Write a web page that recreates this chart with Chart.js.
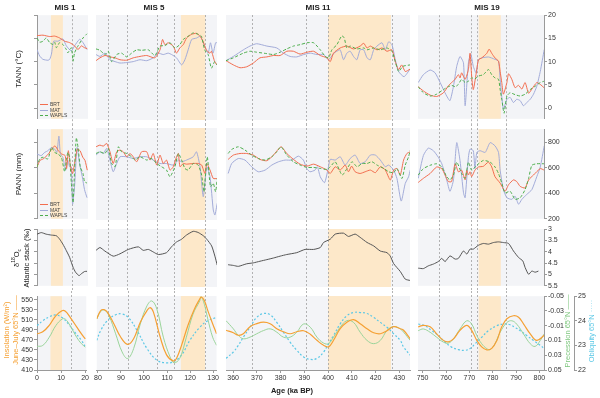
<!DOCTYPE html>
<html>
<head>
<meta charset="utf-8">
<script src="https://cdn.jsdelivr.net/npm/chart.js@4.4.0/dist/chart.umd.min.js"></script>
<style>
  body { margin: 0; width: 600px; height: 398px; position: relative; overflow: hidden; background: #fff;
         font-family: "Liberation Sans", Arial, sans-serif; color: #222; }
  .panel { position: absolute; }
  .txt { position: absolute; white-space: nowrap; z-index: 5; transform: translate(-50%, -50%); }
  .vert { position: absolute; white-space: nowrap; z-index: 5; text-align: center;
          transform: translate(-50%, -50%) rotate(-90deg); }
  .title { font-weight: bold; font-size: 8px; }
  .legend { position: absolute; z-index: 5; font-size: 5px; line-height: 5.6px; color: #444; }
  .sw { display: inline-block; width: 8px; height: 0; vertical-align: middle; margin-right: 2px; }
</style>
</head>
<body>

<div class="txt title" style="left:65px;top:7px">MIS 1</div>
<div class="txt title" style="left:154px;top:7px">MIS 5</div>
<div class="txt title" style="left:318px;top:7px">MIS 11</div>
<div class="txt title" style="left:487px;top:7px">MIS 19</div>

<div class="vert" style="left:18px;top:69px;font-size:8px">TANN (°C)</div>
<div class="vert" style="left:18px;top:174px;font-size:8px">PANN (mm)</div>
<div class="vert" style="left:20px;top:258px;font-size:7.5px;line-height:8px">δ<sup style="font-size:5px">18</sup>O<sub style="font-size:5px">c</sub><br>Atlantic stack (‰)</div>
<div class="vert" style="left:11px;top:330px;font-size:7.5px;line-height:8.5px;color:#f5a033">Insolation (W/m²)<br>June–July 65°N ——</div>
<div class="vert" style="left:567px;top:331px;font-size:7.5px;color:#7cc67c">Precession 65°N ——</div>
<div class="vert" style="left:591px;top:331px;font-size:7.5px;color:#5cc8e6">Obliquity 65°N ·····</div>
<div class="txt" style="left:292px;top:390px;font-size:7.5px;font-weight:bold">Age (ka BP)</div>

<div class="legend" style="left:40px;top:102px">
  <div><span class="sw" style="border-top:1.2px solid #f26d4f"></span>BRT</div>
  <div><span class="sw" style="border-top:1.2px solid #a3acd9"></span>MAT</div>
  <div><span class="sw" style="border-top:1.2px dashed #4cae4c"></span>WAPLS</div>
</div>
<div class="legend" style="left:40px;top:202px">
  <div><span class="sw" style="border-top:1.2px solid #f26d4f"></span>BRT</div>
  <div><span class="sw" style="border-top:1.2px solid #a3acd9"></span>MAT</div>
  <div><span class="sw" style="border-top:1.2px dashed #4cae4c"></span>WAPLS</div>
</div>

<script>
// ---- axis ticks ----
const mis1Ticks = [0, 10, 20];
const mis5Ticks = [80, 90, 100, 110, 120, 130];
const mis11Ticks = [360, 370, 380, 390, 400, 410, 420, 430];
const mis19Ticks = [750, 760, 770, 780, 790, 800];
const tannTicks = [0, 5, 10, 15, 20];
const pannTicks = [200, 400, 600, 800];
const d18oTicks = [3, 3.5, 4, 4.5, 5, 5.5];
const insolTicks = [410, 430, 450, 470, 490, 510, 530, 550];
const precTicks = [-0.05, -0.03, -0.01, 0.01, 0.03, 0.05];
const oblTicks = [22, 23, 24, 25];

// interglacial bands and marker lines (ka)
const mis1Band = [5.6, 10.4], mis1Marks = [14];
const mis5Band = [116, 126.5], mis5Marks = [84.5, 93, 105.5, 113, 126.5];
const mis11Band = [400, 426.5], mis11Marks = [368, 390.5, 400, 427];
const mis19Band = [774, 783.5], mis19Marks = [757, 770.8, 773.4, 785.9];

// ---- TANN (°C) ----
const mis1TannBrt = [[0,15.6],[2.4,15.7],[5.1,15.4],[7.1,15.5],[9.1,15.1],[11.1,14.4],[13.1,14.1],[15.1,13.4],[16.5,12.6],[17.8,13.4],[19.1,13.0],[20.2,12.8]];
const mis1TannMat = [[0,12.6],[1.1,11.2],[2.4,10.5],[4.4,10.3],[5.1,10.5],[5.8,11.6],[6.7,14.4],[8.4,14.4],[10.4,14.9],[11.8,13.4],[13.8,12.3],[15.1,13.4],[17.1,14.8],[18.5,14.1],[20.1,12.6]];
const mis1TannWapls = [[0,15.1],[1.1,14.2],[2.4,14.4],[3.7,15.1],[5.1,14.1],[6.4,13.7],[7.1,14.2],[7.8,13.0],[9.1,14.1],[10.4,13.7],[11.8,12.6],[12.4,11.9],[13.8,13.0],[14.5,10.1],[15.1,11.9],[16.5,13.4],[18.5,15.1],[20.1,16.0]];

const mis5TannBrt = [[79.5,10.3],[81.2,10.9],[83.4,11.4],[85.5,11.1],[87.7,10.9],[89.8,10.5],[92.7,10.4],[95.5,10.9],[98.4,11.2],[101.3,11.4],[104.8,10.9],[107.0,12.6],[108.1,14.8],[109.1,13.7],[110.5,14.1],[112.7,13.4],[114.1,11.9],[115.5,13.0],[117.0,13.7],[118.4,15.1],[120.6,15.9],[122.7,16.1],[124.2,15.5],[125.5,14.4],[126.9,12.6],[128.4,11.9],[129.1,12.3],[130.5,10.1],[131.5,9.4]];
const mis5TannMat = [[79.5,11.6],[81.2,11.2],[83.4,11.9],[85.5,10.5],[87.7,10.1],[89.8,9.8],[92.7,9.9],[95.5,10.1],[98.4,10.5],[101.3,10.3],[104.1,10.9],[106.2,11.9],[108.4,11.6],[110.5,11.9],[112.0,11.6],[114.1,10.9],[116.3,9.4],[117.7,10.5],[119.1,12.6],[120.6,14.8],[122.7,15.1],[124.2,15.5],[124.8,15.1],[126.2,13.4],[127.7,11.9],[128.7,14.1],[129.8,11.9],[130.9,14.1],[131.5,14.1]];
const mis5TannWapls = [[79.5,12.8],[81.2,12.5],[83.4,11.6],[84.8,12.3],[86.2,10.1],[88.4,11.6],[90.5,11.9],[92.7,11.1],[94.8,11.9],[97.0,12.6],[99.1,12.5],[102.0,12.6],[104.8,11.4],[107.0,13.4],[109.1,13.5],[111.3,14.1],[113.4,13.0],[115.5,13.7],[117.0,14.8],[119.1,15.5],[121.3,16.2],[123.4,15.9],[124.8,15.5],[126.2,12.6],[127.7,11.6],[129.1,8.7],[130.5,10.1],[131.5,9.4]];

const mis11TannBrt = [[357,10.3],[360.1,9.4],[362.9,8.8],[365.7,9.0],[368.5,9.8],[371.3,10.9],[374.2,11.1],[377,11.4],[379.8,11.4],[382.6,12.3],[385.4,12.3],[388.2,11.7],[391.1,12.1],[393.9,12.3],[396.7,11.4],[399.5,10.9],[400.9,10.1],[402.3,11.9],[405.1,13.0],[407.9,13.4],[410.7,12.8],[413.5,13.4],[415,14.0],[416.4,13.0],[417.8,13.4],[420.6,12.6],[422.7,13.0],[424.8,12.3],[426.9,12.6],[428.3,10.1],[429.7,8.4],[431,9.4],[432.5,8.0],[434.5,8.5]];
const mis11TannMat = [[357,10.3],[360.1,11.2],[364.3,12.6],[367.1,13.4],[369.9,13.9],[374.2,13.4],[378.4,13.0],[381.2,11.9],[384,11.2],[386.8,11.1],[389.7,11.6],[392.5,11.9],[395.3,11.6],[398.1,11.6],[400.2,10.5],[402.3,11.8],[403.7,12.3],[405.1,12.6],[406.5,10.5],[407.9,11.9],[409.3,12.3],[410.7,11.2],[412.1,10.5],[413.5,12.6],[415,12.6],[416.4,10.9],[417.8,10.5],[419.2,12.6],[420.6,13.4],[422.7,14.1],[424.1,12.6],[425.5,14.3],[426.9,13.7],[428.3,10.5],[429.7,8.0],[432,6.9],[434.5,8.5]];
const mis11TannWapls = [[357,10.3],[360.1,10.9],[364.3,11.9],[367.1,12.3],[369.9,12.1],[374.2,11.8],[377,11.6],[379.8,12.1],[382.6,12.8],[385.4,13.4],[388.2,13.7],[391.1,14.1],[393.9,14.1],[396.7,12.6],[398.8,11.2],[400.2,10.9],[401.6,12.6],[403.7,13.7],[405.8,15.6],[406.8,15.1],[407.9,13.0],[409.3,13.4],[412.1,12.8],[415,13.0],[416.4,12.6],[419.2,13.0],[422,12.6],[424.8,13.0],[426.9,12.3],[428.3,10.1],[429.7,8.0],[431.5,9.1],[434.5,9.4]];

const mis19TannBrt = [[748.1,4.6],[750.3,3.7],[753.2,2.8],[756,2.5],[758.9,3.3],[761,4.8],[762.4,5.5],[763.9,6.2],[765.3,7.2],[766,6.5],[766.7,7.6],[768.2,6.2],[769.6,8.3],[770.3,11.8],[771,6.9],[771.7,4.0],[773.2,8.3],[773.9,10.4],[775.3,10.8],[777.5,11.8],[778.5,12.7],[779.6,11.8],[781,10.8],[782.5,10.1],[783.2,7.9],[783.9,5.5],[784.6,3.0],[786.1,5.5],[786.8,7.4],[788.2,6.2],[789.6,4.4],[791.1,4.9],[792.5,4.1],[793.9,5.5],[795.4,3.2],[796.8,4.1],[798.9,5.5],[800.4,5.1],[802,4.4]];
const mis19TannMat = [[748.1,5.5],[750.3,7.2],[753.2,8.2],[755.3,7.6],[757.5,5.5],[758.9,4.0],[760.3,2.6],[761.7,1.6],[763.2,4.7],[764.6,9.0],[766,11.1],[767.5,9.7],[768.2,0.5],[769.6,9.7],[770.6,11.7],[771.7,9.0],[772.9,7.6],[773.9,10.4],[775.3,10.8],[778.2,11.0],[781,10.5],[782.5,10.1],[783.2,6.2],[784.6,-0.2],[786.1,1.9],[787.5,2.3],[788.9,1.2],[790.3,1.9],[791.8,1.6],[793.2,0.5],[794.6,1.2],[796.1,1.9],[797.5,3.0],[798.9,4.7],[800.4,7.9],[802.1,12.6]];
const mis19TannWapls = [[748.1,4.6],[750.3,3.3],[753.2,2.6],[756,3.0],[758.9,4.0],[761,4.6],[762.4,4.9],[763.9,4.6],[765.3,5.1],[766.7,6.2],[768.2,5.5],[769.6,5.8],[771,6.5],[772.4,6.3],[773.9,6.9],[776,7.2],[778.2,8.3],[779.6,7.2],[781,6.5],[782.5,6.2],[783.2,4.0],[783.9,1.9],[784.9,-1.1],[786.1,2.6],[787.5,3.3],[789.6,2.9],[791.8,2.6],[793.9,3.0],[796.1,4.0],[798.2,4.7],[800.4,5.5],[802.1,5.8]];

// ---- PANN (mm) ----
const mis1PannBrt = [[0,605],[1.2,656],[2.5,668],[4.6,706],[5.9,744],[7.2,770],[8.6,732],[9.9,706],[11.3,694],[11.9,592],[12.6,732],[13.3,630],[14.3,554],[15.3,656],[16.2,744],[17.3,732],[18.4,681],[19.3,656],[20.2,580]];
const mis1PannMat = [[0,706],[1.7,694],[3.1,719],[4.4,732],[5.8,757],[7.1,744],[8.0,719],[8.8,846],[9.4,706],[10.4,681],[11.5,580],[12.4,656],[13.1,605],[13.8,605],[14.3,314],[15.1,453],[16.1,757],[17.1,630],[18.2,529],[19.1,428],[20.1,365]];
const mis1PannWapls = [[0,605],[1.1,668],[2.4,681],[4.4,668],[5.8,757],[7.1,719],[8.4,706],[9.8,681],[11.1,567],[11.8,656],[12.4,719],[13.1,681],[13.8,479],[14.5,327],[15.1,580],[15.8,833],[16.5,757],[17.4,605],[18.5,554],[19.1,491],[20.1,479]];

const mis5PannBrt = [[79.5,757],[81.2,770],[82.6,762],[84.1,782],[85.5,719],[86.9,630],[88.4,719],[89.8,732],[91.2,719],[92.7,681],[94.1,706],[95.5,681],[97.0,643],[99.1,719],[101.3,719],[102.7,656],[104.1,706],[105.6,618],[107.0,694],[108.4,630],[109.8,656],[111.3,580],[112.7,605],[114.1,681],[114.9,706],[115.6,605],[117.0,630],[118.4,625],[121.3,630],[123.4,630],[124.9,618],[126.3,554],[127.1,630],[128.5,580],[129.9,516],[131.6,516]];
const mis5PannMat = [[79.5,694],[81.2,719],[82.6,706],[84.1,744],[85.5,656],[86.9,567],[88.4,630],[89.8,681],[92.7,681],[95.5,668],[98.4,681],[101.3,681],[104.1,656],[107.0,630],[109.8,630],[112.7,618],[114.9,656],[116.3,643],[118.4,656],[121.3,681],[122.7,719],[124.2,605],[125.6,377],[127.1,605],[128.5,529],[129.9,276],[130.6,238],[131.6,327]];
const mis5PannWapls = [[79.5,706],[81.2,719],[83.3,706],[84.8,744],[86.2,630],[87.7,605],[89.1,757],[90.5,719],[92.7,706],[94.8,681],[96.3,656],[98.4,681],[101.3,656],[103.4,668],[105.6,630],[107.7,605],[109.8,580],[111.3,529],[113.4,605],[114.9,706],[116.3,656],[117.7,592],[119.1,580],[121.3,630],[123.4,618],[124.9,542],[125.9,415],[127.3,681],[128.7,453],[129.9,479],[130.9,415],[131.6,516]];

const mis11PannBrt = [[357.9,661],[360.1,694],[362.9,706],[365.7,706],[368.5,694],[371.3,661],[374.2,651],[377,694],[380.2,757],[382.6,706],[385.4,661],[388.2,625],[391.1,610],[393.9,625],[396.7,605],[399.5,580],[400.9,554],[403,605],[405.1,580],[407.2,618],[408.6,567],[409.9,610],[411.4,567],[413.5,554],[415.6,567],[417.8,580],[419.9,560],[422,605],[424.1,580],[426.2,504],[427.6,580],[429,592],[430.4,542],[431.8,656],[433.2,706],[434.6,719]];
const mis11PannMat = [[357.9,554],[359.4,630],[362.2,668],[365,656],[367.8,605],[370.6,567],[373.5,580],[376.3,618],[379.1,643],[381.9,656],[384.7,656],[387.5,686],[389.6,656],[391,592],[392.4,567],[394.5,580],[395.5,605],[396.7,529],[398.5,484],[399.9,580],[400.9,661],[403,656],[405.1,681],[407.2,618],[409.3,668],[411.4,694],[413.5,630],[415.6,643],[417.8,694],[419.9,694],[422,656],[424.1,605],[425.5,618],[427.6,580],[429,516],[430.8,344],[432.5,478],[433.9,529],[434.6,580]];
const mis11PannWapls = [[357.9,706],[359.4,737],[362.2,757],[365,732],[367.8,694],[370.6,668],[373.5,656],[376.3,681],[378.4,719],[380.2,757],[382.6,694],[385.4,643],[388.2,618],[391.1,600],[393.9,600],[396.7,592],[399.5,585],[400.9,605],[403,643],[405.9,542],[408,592],[410.1,643],[412.2,605],[414.3,630],[416.4,630],[418.5,643],[420.6,618],[423.5,592],[425.5,567],[427.6,560],[429,592],[431.1,516],[432.5,618],[433.9,681],[434.6,732]];

const mis19PannBrt = [[748.1,484],[750.3,516],[753.2,554],[756,605],[758.2,592],[759.6,542],[761,491],[762.4,491],[763.9,630],[765.3,567],[766.7,580],[768.2,504],[768.9,580],[769.6,542],[770.3,567],[771,529],[772.4,580],[773.9,605],[776,610],[778.2,643],[779.6,605],[781,529],[783.2,479],[785.3,415],[786.8,466],[788.9,504],[790.3,491],[791.8,453],[793.9,441],[795.4,504],[797.5,542],[800.4,592],[802.1,580]];
const mis19PannMat = [[748.1,516],[750.3,694],[752.4,752],[754.6,732],[756.7,681],[758.2,630],[760.3,504],[761.7,415],[763.2,504],[764.6,795],[766,656],[767.5,403],[768.2,365],[769.6,681],[770.3,744],[771.7,732],[772.4,592],[773.2,719],[774.6,732],[776.8,719],[778.9,795],[781,770],[782.5,719],[783.2,580],[784.6,428],[786.1,365],[788.2,352],[789.6,377],[791.1,314],[792.5,352],[794.6,390],[796.8,428],[798.9,529],[800.4,605],[802.1,770]];
const mis19PannWapls = [[748.1,542],[750.3,592],[753.2,618],[756,630],[758.2,605],[760.3,529],[761.7,504],[763.2,542],[764.6,643],[766.7,554],[768.2,516],[769.6,643],[771,580],[773.2,618],[776,656],[778.9,643],[781,605],[782.5,554],[783.9,479],[785.3,403],[787.5,415],[789.6,352],[791.8,365],[793.9,428],[795.4,516],[796.8,618],[798.9,630],[802.1,630]];

// ---- δ18O Atlantic stack (‰) ----
const mis1D18o = [[0,3.22],[1.7,3.15],[3.7,3.22],[5.8,3.26],[7.8,3.29],[9.1,3.44],[10.4,3.66],[11.8,3.95],[13.1,4.24],[14.5,4.68],[15.5,4.9],[16.9,5.05],[17.8,4.97],[19.1,4.87],[20.1,4.86]];
const mis5D18o = [[79.5,3.92],[81.2,3.8],[83.3,3.95],[86.9,4.17],[89.8,4.07],[93.4,3.88],[97.7,3.77],[99.8,3.92],[102,3.88],[104.1,3.99],[106.3,4.1],[109.8,4.02],[112,3.76],[114.1,3.56],[116.3,3.44],[118.4,3.26],[121.3,3.1],[123.4,3.15],[125.6,3.29],[127.1,3.44],[129.2,3.73],[130.6,4.17],[131.6,4.56]];
const mis11D18o = [[357.9,4.54],[360.1,4.57],[362.2,4.61],[365.7,4.5],[368.5,4.46],[371.3,4.39],[374.2,4.32],[377,4.25],[379.8,4.17],[382.6,4.1],[386.8,4.02],[390.3,3.88],[393.9,3.88],[396.7,3.8],[398.1,3.58],[400.9,3.44],[403,3.22],[406.5,3.18],[408.6,3.32],[411.4,3.22],[413.5,3.36],[416.4,3.58],[419.2,3.73],[422,3.95],[424.8,4.02],[426.2,4.17],[427.6,4.49],[430.4,4.83],[432.5,5.16],[434.6,5.22]];
const mis19D18o = [[748.1,4.72],[750.3,4.74],[752.4,4.62],[754.6,4.54],[756.7,4.43],[758.2,4.29],[759.6,4.43],[761.7,4.18],[763.9,4.32],[765.3,4.29],[767.5,3.96],[768.9,4.1],[770.3,3.88],[771.7,3.88],[773.9,3.71],[776,3.63],[778.2,3.66],[780.3,3.59],[782.5,3.56],[784.6,3.59],[786.8,3.63],[788.9,3.96],[791.1,4.25],[792.9,4.4],[793.9,4.69],[795.4,4.99],[796.8,4.85],[798.2,4.9],[799.6,4.85]];

// ---- orbital: June-July insolation 65N (W/m2), precession, obliquity ----
const mis1Insol = [[0,482],[2.4,486],[5.1,499],[7.8,518],[10.4,528],[11.8,527],[13.8,515],[16.5,496],[18.5,482],[20.1,472]];
const mis1Prec = [[0,0.018],[2.4,0.0167],[5.1,0.0056],[7.8,-0.01],[10.4,-0.0189],[11.8,-0.0189],[13.8,-0.01],[16.5,0.0056],[18.5,0.0144],[20.1,0.0189]];
const mis1Obl = [[0,23.8],[2.4,24.0],[5.1,24.16],[7.8,24.24],[10.4,24.13],[13.1,23.87],[15.8,23.53],[18.5,23.2],[20.1,22.93]];

const mis5Insol = [[79.5,512],[81.2,528],[82.6,530],[84.1,525],[86.9,502],[89.8,476],[92.9,461],[95.5,472],[98.4,505],[101.3,528],[102.7,534],[104.1,525],[107,476],[109.8,440],[112.7,428],[114.1,433],[116.3,459],[119.1,499],[122,532],[124.2,551],[124.8,555],[126.2,548],[127.7,528],[129.8,502],[131.5,482]];
const mis5Prec = [[79.5,-0.0189],[81.2,-0.0291],[82.9,-0.0309],[84.8,-0.0233],[87.7,0.0011],[90.5,0.0256],[92.9,0.0344],[95.5,0.0211],[98.4,-0.0122],[101.3,-0.0367],[103.4,-0.0433],[105.6,-0.0322],[108.4,0.0056],[111.3,0.0322],[113,0.0402],[115.5,0.0344],[118.4,0.0056],[121.3,-0.0256],[124.2,-0.0433],[124.8,-0.049],[126.2,-0.0389],[127.7,-0.0189],[129.8,0.0056],[131.5,0.0167]];
const mis5Obl = [[79.5,23.2],[81.2,23.6],[84.1,24.0],[87.7,24.24],[90.5,24.27],[93.4,24.11],[97,23.6],[101.3,22.87],[105.6,22.4],[109.8,22.29],[112.7,22.33],[116.3,22.6],[119.9,23.2],[124.2,23.73],[127.7,24.0],[131.5,24.13]];

const mis11Insol = [[357,489],[360.1,484],[362.2,479],[364.3,482],[367.1,496],[369.9,502],[372.8,505],[375.6,502],[378.4,492],[381.2,486],[384,482],[386.8,486],[389.7,488],[392.5,481],[395.3,469],[398.1,459],[400.2,456],[402.3,469],[405.1,492],[407.9,505],[410.7,510],[413.5,502],[416.4,492],[419.2,484],[422,482],[424.8,488],[427.6,496],[430.4,492],[431.8,489],[434.6,472]];
const mis11Prec = [[357,-0.0167],[360.1,-0.0056],[362.2,0.0033],[364.3,0.0078],[367.1,0.0056],[369.9,0.0011],[372.8,-0.0033],[375.6,-0.0056],[378.4,-0.0011],[381.2,0.0056],[384,0.0056],[386.8,-0.0011],[389.7,-0.0122],[392.5,-0.0078],[395.3,0.0056],[398.1,0.0136],[400.2,0.0144],[402.3,0.0056],[405.1,-0.0078],[407.9,-0.0167],[410.7,-0.0144],[413.5,-0.0011],[416.4,0.01],[419.2,0.0144],[422,0.01],[424.8,-0.0033],[427.6,-0.0087],[430.4,-0.0056],[431.8,-0.0011],[434.6,0.01]];
const mis11Obl = [[357,22.47],[360.1,22.73],[362.2,23.0],[364.3,23.33],[367.1,23.73],[369.9,24.13],[372.8,24.29],[375.6,24.24],[378.4,23.93],[381.2,23.53],[384,23.13],[386.8,22.8],[389.7,22.53],[392.5,22.43],[395.3,22.47],[398.1,22.73],[400.2,23.07],[402.3,23.4],[405.1,23.87],[407.9,24.2],[410.7,24.33],[413.5,24.33],[416.4,24.29],[419.2,24.13],[422,23.93],[424.8,23.73],[427.6,23.47],[430.4,23.2],[431.8,22.93],[434.6,22.6]];

const mis19Insol = [[748.1,496],[750.3,499],[753.2,496],[756,482],[758.9,469],[761,466],[763.2,472],[766,489],[768.9,499],[771,489],[773.2,469],[775.3,456],[777.5,450],[779.6,453],[781.8,469],[783.9,496],[786.1,512],[788.9,518],[791.1,515],[793.2,502],[796.1,482],[798.9,469],[802.1,479]];
const mis19Prec = [[748.1,-0.0033],[750.3,-0.0056],[753.2,-0.0011],[756,0.0056],[758.9,0.0122],[761,0.0136],[763.2,0.0078],[766,-0.0056],[768.9,-0.0167],[771,-0.0122],[773.2,0.0033],[775.3,0.0144],[777.5,0.0211],[778.9,0.0224],[781,0.0144],[783.2,-0.0011],[786.1,-0.0144],[788.2,-0.0167],[790.3,-0.0122],[793.2,0.0011],[796.1,0.0144],[798.2,0.018],[800.4,0.01],[802.1,0.0011]];
const mis19Obl = [[748.1,23.87],[751,23.8],[753.9,23.6],[756.7,23.4],[759.6,23.13],[762.4,22.93],[765.3,22.83],[768.2,22.8],[770.3,22.87],[772.5,23.07],[775.3,23.33],[778.2,23.6],[781.8,23.8],[784.6,23.87],[787.5,23.84],[789.6,23.73],[791.8,23.6],[794.6,23.4],[797.5,23.2],[800.4,23.0],[802.1,22.87]];

// ---- layout (pixels) ----
const colsCfg = [
  { x0: 0,   x1: 90,  l: 37,  r: 88,  min: 0,   max: 20.5,  ticks: mis1Ticks,  band: mis1Band,  marks: mis1Marks },
  { x0: 93,  x1: 220, l: 96,  r: 217, min: 79.5, max: 131.5, ticks: mis5Ticks,  band: mis5Band,  marks: mis5Marks },
  { x0: 223, x1: 413, l: 226, r: 410, min: 357, max: 434.5, ticks: mis11Ticks, band: mis11Band, marks: mis11Marks },
  { x0: 415, x1: 600, l: 418, r: 544, min: 748, max: 802,   ticks: mis19Ticks, band: mis19Band, marks: mis19Marks }
];
const rowsCfg = [
  { y0: 10,  y1: 124, t: 15,  b: 120, min: -2.3, max: 20,  ticks: tannTicks },
  { y0: 124, y1: 224, t: 128, b: 220, min: 200,  max: 900, ticks: pannTicks },
  { y0: 224, y1: 291, t: 229, b: 287, min: 3,    max: 5.5, ticks: d18oTicks, rev: true },
  { y0: 291, y1: 388, t: 296, b: 370, min: 410,  max: 557, ticks: insolTicks }
];

const pollen = [
  [[mis1TannBrt, mis1TannMat, mis1TannWapls], [mis1PannBrt, mis1PannMat, mis1PannWapls]],
  [[mis5TannBrt, mis5TannMat, mis5TannWapls], [mis5PannBrt, mis5PannMat, mis5PannWapls]],
  [[mis11TannBrt, mis11TannMat, mis11TannWapls], [mis11PannBrt, mis11PannMat, mis11PannWapls]],
  [[mis19TannBrt, mis19TannMat, mis19TannWapls], [mis19PannBrt, mis19PannMat, mis19PannWapls]]
];
const d18o = [mis1D18o, mis5D18o, mis11D18o, mis19D18o];
const orbital = [
  [mis1Insol, mis1Prec, mis1Obl],
  [mis5Insol, mis5Prec, mis5Obl],
  [mis11Insol, mis11Prec, mis11Obl],
  [mis19Insol, mis19Prec, mis19Obl]
];

const pts = arr => arr.map(p => ({ x: p[0], y: p[1] }));
const AXIS = '#9a9a9a';
const tickFont = { size: 7, family: 'Liberation Sans' };
const fmt = v => String(+v.toFixed(3));

// panel background, interglacial band and dashed markers
const shading = {
  id: 'shading',
  beforeDraw(chart, args, o) {
    const { ctx, chartArea: a } = chart;
    const x = chart.scales.x;
    ctx.save();
    ctx.fillStyle = '#f3f4f7';
    ctx.fillRect(a.left, a.top, a.right - a.left, a.bottom - a.top);
    const b0 = Math.max(a.left, x.getPixelForValue(o.band[0]));
    const b1 = Math.min(a.right, x.getPixelForValue(o.band[1]));
    ctx.fillStyle = '#fde8c9';
    ctx.fillRect(b0, a.top, b1 - b0, a.bottom - a.top);
    ctx.strokeStyle = '#a0a0a0';
    ctx.lineWidth = 0.8;
    ctx.setLineDash([2, 2]);
    o.marks.forEach(v => {
      const px = Math.round(x.getPixelForValue(v)) + 0.5;
      ctx.beginPath();
      ctx.moveTo(px, o.first ? a.top : 0);
      ctx.lineTo(px, o.last ? a.bottom : chart.height);
      ctx.stroke();
    });
    ctx.restore();
  }
};

// fixed axis sizes, only for visible axes
const fixW = w => s => { s.width = s.options.display ? w : 0; };

function yScale(opts) {
  return Object.assign({
    type: 'linear',
    border: { display: true, color: AXIS, width: 1 },
    grid: { display: true, drawOnChartArea: false, drawTicks: true, tickLength: 3, color: AXIS },
    ticks: { font: tickFont, color: '#333', padding: 1, autoSkip: false, callback: fmt }
  }, opts);
}

function addPanel(r, c) {
  const col = colsCfg[c], row = rowsCfg[r];
  const w = col.x1 - col.x0, h = row.y1 - row.y0;
  const div = document.createElement('div');
  div.className = 'panel';
  div.style.left = col.x0 + 'px';
  div.style.top = row.y0 + 'px';
  const cv = document.createElement('canvas');
  cv.width = w; cv.height = h;
  cv.style.width = w + 'px'; cv.style.height = h + 'px';
  div.appendChild(cv);
  document.body.appendChild(div);

  const leftW = c === 0 ? col.l - col.x0 : 0;
  const rightW = c === 3 ? col.x1 - col.r : 0;
  const xAxisH = r === 3 ? 18 : 0;

  let datasets;
  const line = { pointRadius: 0, borderWidth: 1, fill: false };
  if (r < 2) {
    const [brt, mat, wapls] = pollen[c][r];
    datasets = [
      Object.assign({ data: pts(wapls), borderColor: '#4cae4c', borderDash: [3, 2], tension: 0.2 }, line),
      Object.assign({ data: pts(brt), borderColor: '#f26d4f', tension: 0.2 }, line),
      Object.assign({ data: pts(mat), borderColor: '#a3acd9', tension: 0.2 }, line)
    ];
  } else if (r === 2) {
    datasets = [Object.assign({ data: pts(d18o[c]), borderColor: '#555555', tension: 0.2 }, line)];
  } else {
    const [ins, prec, obl] = orbital[c];
    datasets = [
      Object.assign({ data: pts(ins), borderColor: '#f5a033', tension: 0.4, yAxisID: 'y' }, line, { borderWidth: 1.2 }),
      Object.assign({ data: pts(prec), borderColor: '#9ad49a', tension: 0.4, yAxisID: 'yp' }, line),
      Object.assign({ data: pts(obl), borderColor: '#5cc8e6', borderDash: [2, 2], tension: 0.4, yAxisID: 'yo' }, line, { borderWidth: 1.2 })
    ];
  }

  const scales = {
    x: {
      type: 'linear', min: col.min, max: col.max, display: r === 3, position: 'bottom',
      border: { display: true, color: AXIS, width: 1 },
      grid: { display: true, drawOnChartArea: false, drawTicks: true, tickLength: 3, color: AXIS },
      ticks: { font: tickFont, color: '#333', padding: 1, maxRotation: 0, autoSkip: false, callback: fmt },
      afterBuildTicks: s => { s.ticks = col.ticks.map(v => ({ value: v })); },
      afterFit: s => { s.height = xAxisH; }
    },
    y: yScale({
      min: row.min, max: row.max, reverse: !!row.rev,
      display: c === 0 || (c === 3 && r < 3),
      position: c === 0 ? 'left' : 'right',
      afterBuildTicks: s => { s.ticks = row.ticks.map(v => ({ value: v })); },
      afterFit: fixW(c === 0 ? leftW : rightW)
    })
  };
  if (c === 0 && r < 3) scales.y.ticks.callback = () => '';
  if (r === 3) {
    scales.yp = yScale({
      min: -0.05, max: 0.05, reverse: true, display: c === 3, position: 'right', weight: 1,
      afterBuildTicks: s => { s.ticks = precTicks.map(v => ({ value: v })); },
      afterFit: fixW(30)
    });
    scales.yo = yScale({
      min: 22, max: 25, display: c === 3, position: 'right', weight: 2,
      afterBuildTicks: s => { s.ticks = oblTicks.map(v => ({ value: v })); },
      afterFit: fixW(26)
    });
  }

  new Chart(cv.getContext('2d'), {
    type: 'line',
    data: { datasets: datasets },
    options: {
      responsive: false,
      animation: false,
      devicePixelRatio: 1,
      layout: {
        autoPadding: false,
        padding: {
          left: col.l - col.x0 - leftW,
          right: col.x1 - col.r - rightW,
          top: row.t - row.y0,
          bottom: row.y1 - row.b - xAxisH
        }
      },
      scales: scales,
      plugins: {
        legend: { display: false },
        tooltip: { enabled: false },
        shading: { band: col.band, marks: col.marks, first: r === 0, last: r === 3 }
      }
    },
    plugins: [shading]
  });
}

for (let r = 0; r < 4; r++) {
  for (let c = 0; c < 4; c++) addPanel(r, c);
}
</script>
</body>
</html>
